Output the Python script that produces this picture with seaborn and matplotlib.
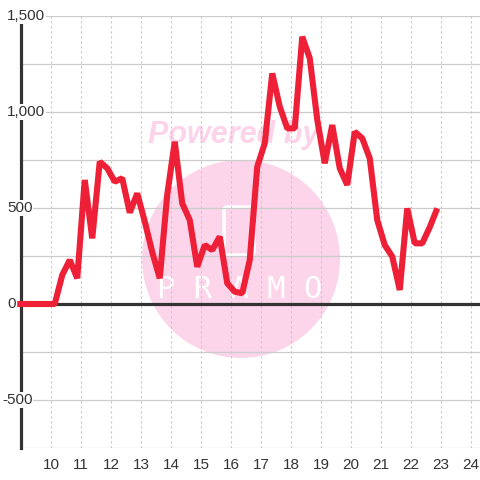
import pandas as pd
import matplotlib
matplotlib.use('Agg')
import matplotlib.pyplot as plt
import seaborn as sns
from matplotlib.patches import Circle, FancyBboxPatch

# quarterly series (mid-quarter positions)
periods = ['2008Q4'] + [f'{y}Q{q}' for y in range(2009, 2023) for q in range(1, 5)]
values = [0,
          0, 0, 0, 0,
          0, 151, 229, 134,
          646, 342, 741, 707,
          637, 655, 476, 576,
          430, 270, 134, 570,
          845, 524, 437, 194,
          307, 281, 351, 108,
          64, 56, 229, 715,
          837, 1201, 1028, 915,
          915, 1392, 1280, 960,
          733, 932, 707, 620,
          897, 863, 759, 437,
          307, 247, 73, 498,
          316, 316, 400, 498]
x_ticks = list(range(10, 25))
y_labels = {1500: '1,500', 1000: '1,000', 500: '500', 0: '0', -500: '-500'}
y_grid = list(range(-750, 1501, 250))

pi = pd.PeriodIndex(periods, freq='Q')
df = pd.DataFrame({'x': (pi.year % 100) + (pi.quarter - 0.5) / 4, 'value': values})

sns.set_style('white')
plt.rcParams['font.family'] = ['Liberation Sans', 'DejaVu Sans']

fig = plt.figure(figsize=(4.8, 4.8), dpi=100)
ax = fig.add_axes([21 / 480, 32 / 480, 459 / 480, 432 / 480])

# watermark
ax.add_patch(Circle((241 / 480, 1 - 259 / 480), 99 / 480, transform=fig.transFigure,
                    color='#fcd5eb', zorder=0.1, lw=0))
ax.add_patch(FancyBboxPatch((224 / 480, 1 - 255 / 480), 30 / 480, 48 / 480,
                            boxstyle='round,pad=0,rounding_size=0.006', transform=fig.transFigure,
                            fill=False, ec='white', lw=2.5, zorder=0.2))
ax.text(234 / 480, 1 - 135 / 480, 'Powered by', transform=fig.transFigure, color='#fcd3e8',
        fontsize=22, fontweight='bold', fontstyle='italic', ha='center', va='center', zorder=0.2)
ax.text(240 / 480, 1 - 290 / 480, 'P R A M O', transform=fig.transFigure, color='white',
        fontsize=22, family='DejaVu Sans Mono', ha='center', va='center', zorder=0.2)

# grid
for v in y_grid:
    ax.axhline(v, color='#cccccc', lw=0.9, zorder=0.5)
for t in x_ticks:
    ax.axvline(t, color='#c8c8c8', lw=0.8, ls=(0, (2, 2.5)), zorder=0.5)

ax.axhline(0, color='#333333', lw=2.3, zorder=1)

sns.lineplot(data=df, x='x', y='value', ax=ax, color='#ee2037', lw=4.4, zorder=3,
             clip_on=False)
for ln in ax.lines[-1:]:
    ln.set_solid_joinstyle('bevel')
    ln.set_solid_capstyle('butt')

ax.set_xlim(9, 24.3)
ax.set_ylim(-750, 1500)
ax.set_xticks(x_ticks)
ax.set_xticklabels([str(t) for t in x_ticks])
ax.set_yticks([])
ax.tick_params(axis='x', length=0, pad=7, labelsize=11, labelcolor='#333333')
ax.set_xlabel('')
ax.set_ylabel('')

for s in ['top', 'right', 'bottom']:
    ax.spines[s].set_visible(False)
ax.spines['left'].set_color('#333333')
ax.spines['left'].set_linewidth(2.3)
ax.spines['left'].set_bounds(-750, 1458)
ax.spines['left'].set_zorder(2)

trans = ax.get_yaxis_transform()
for v, lab in y_labels.items():
    xpos = (2 - 21) / 459 if v < 0 else (7 - 21) / 459
    ax.text(xpos, v, lab, transform=trans, ha='left', va='center', fontsize=11,
            color='#333333', clip_on=False, zorder=4,
            bbox=dict(facecolor='white', edgecolor='none', pad=0.5))

plt.savefig('out.png', dpi=100)
